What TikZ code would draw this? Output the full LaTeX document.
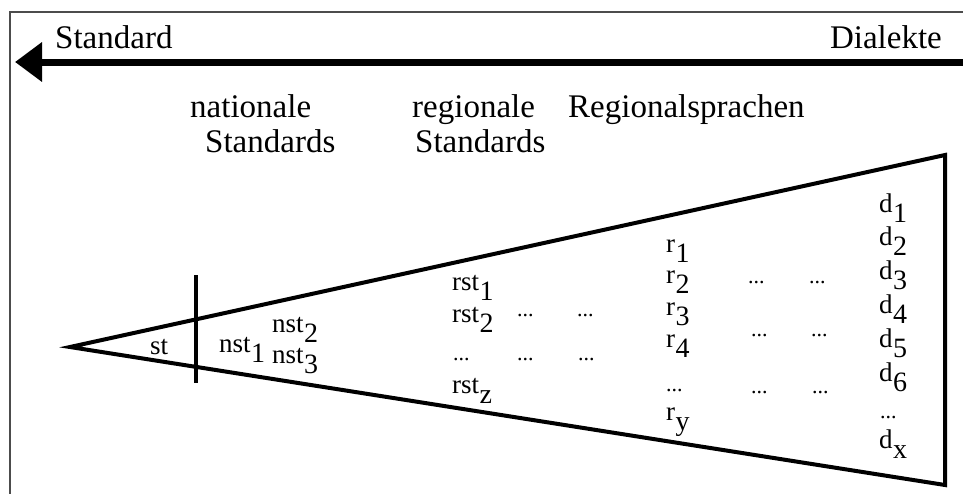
\documentclass[tikz,border=0pt]{standalone}
\usepackage{fontspec}
\setmainfont{Liberation Serif}
\usetikzlibrary{arrows.meta}
\newcommand\lw[1]{\kern0.5pt\raisebox{-0.4em}{\fontsize{28}{30}\selectfont #1}}
\begin{document}
\begin{tikzpicture}[x=1pt,y=-1pt,
  title/.style={font=\fontsize{33}{36}\selectfont, inner sep=0pt, anchor=base west},
  lab/.style={font=\fontsize{27}{30}\selectfont, inner sep=0pt, anchor=base west},
  dotsnode/.style={font=\fontsize{22}{24}\selectfont, inner sep=0pt, anchor=base west},
  edgeline/.style={line width=4pt, line join=miter},
  framecol/.style={draw=black!70, line width=1.6pt}
]
\useasboundingbox (0,0) rectangle (963,493);
\fill[white] (0,0) rectangle (963,493);
% frame
\coordinate (fbl) at (10,500);
\coordinate (ftl) at (10,12);
\coordinate (ftr) at (970,12);
\draw[framecol] (fbl) -- (ftl) -- (ftr);
% arrow
\coordinate (ae) at (970,62);
\coordinate (atip) at (15,62);
\draw[line width=7pt, -{Triangle[length=27pt,width=38pt]}] (ae) -- (atip);
\node[title] (std) at (55,48) {Standard};
\node[title, anchor=base east] (dia) at (942,48) {Dialekte};
% titles
\node[title] (nat1) at (190,117) {nationale};
\node[title] (nat2) at (205,152) {Standards};
\node[title] (reg1) at (412,117) {regionale};
\node[title] (reg2) at (415,152) {Standards};
\node[title] (rsp) at (568,117) {Regionalsprachen};
% triangle
\coordinate (tip) at (70,347);
\coordinate (ur) at (945,155);
\coordinate (lr) at (945,485);
\draw[edgeline] (tip) -- (ur) -- (lr) -- cycle;
\coordinate (vt) at (196,275);
\coordinate (vb) at (196,383);
\draw[line width=4pt] (vt) -- (vb);
% labels
\node[lab] (st) at (150,354) {st};
\node[lab] (nst1) at (219,352) {nst\lw{1}};
\node[lab] (nst2) at (272,332) {nst\lw{2}};
\node[lab] (nst3) at (272,363) {nst\lw{3}};
\node[lab] (rst1) at (452,290) {rst\lw{1}};
\node[lab] (rst2) at (452,322) {rst\lw{2}};
\node[dotsnode] (rstd) at (453,360) {...};
\node[lab] (rstz) at (452,393) {rst\lw{z}};
\node[dotsnode] (a1) at (517,316) {...};
\node[dotsnode] (a2) at (577,316) {...};
\node[dotsnode] (b1) at (517,360) {...};
\node[dotsnode] (b2) at (578,360) {...};
\node[lab] (r1) at (666,252) {r\lw{1}};
\node[lab] (r2) at (666,283) {r\lw{2}};
\node[lab] (r3) at (666,315) {r\lw{3}};
\node[lab] (r4) at (666,347) {r\lw{4}};
\node[dotsnode] (rd) at (666,391) {...};
\node[lab] (ry) at (666,420) {r\lw{y}};
\node[dotsnode] (c1) at (748,283) {...};
\node[dotsnode] (c2) at (809,283) {...};
\node[dotsnode] (e1) at (751,336) {...};
\node[dotsnode] (e2) at (811,336) {...};
\node[dotsnode] (g1) at (751,393) {...};
\node[dotsnode] (g2) at (812,393) {...};
\node[lab] (d1) at (879,212) {d\lw{1}};
\node[lab] (d2) at (879,245) {d\lw{2}};
\node[lab] (d3) at (879,279) {d\lw{3}};
\node[lab] (d4) at (879,313) {d\lw{4}};
\node[lab] (d5) at (879,347) {d\lw{5}};
\node[lab] (d6) at (879,381) {d\lw{6}};
\node[dotsnode] (dd) at (880,418) {...};
\node[lab] (dx) at (879,448) {d\lw{x}};
\end{tikzpicture}
\end{document}
